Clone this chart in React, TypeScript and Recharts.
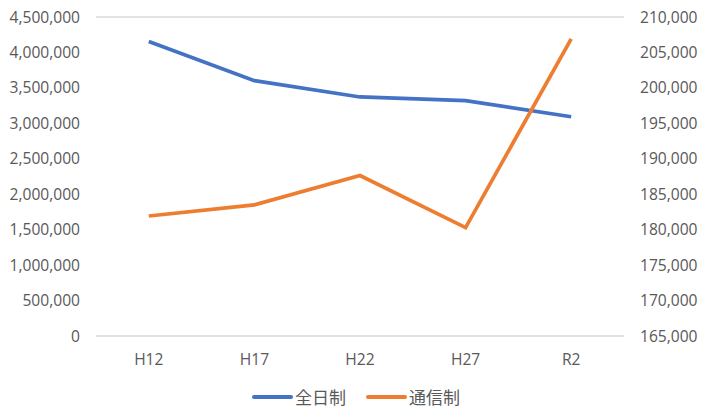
import { CartesianGrid, Legend, Line, LineChart, XAxis, YAxis } from "recharts";

const years = ["H12", "H17", "H22", "H27", "R2"];
const fullTime = [4154000, 3602000, 3372000, 3320000, 3093000];
const correspondence = [181930, 183490, 187630, 180280, 206920];
const leftTicks = [0, 500000, 1000000, 1500000, 2000000, 2500000, 3000000, 3500000, 4000000, 4500000];
const rightTicks = [165000, 170000, 175000, 180000, 185000, 190000, 195000, 200000, 205000, 210000];

const data = years.map((year, i) => ({
  year,
  全日制: fullTime[i],
  通信制: correspondence[i],
}));

const fmt = (v: number) => v.toLocaleString("en-US");
const tickStyle = { fill: "#595959", fontSize: 15.6, fontFamily: "'Open Sans', sans-serif" };

function LegendContent() {
  const items = [
    { name: "全日制", color: "#4472C4" },
    { name: "通信制", color: "#ED7D31" },
  ];
  return (
    <div style={{ display: "flex", justifyContent: "center", gap: 20 }}>
      {items.map((it) => (
        <div key={it.name} style={{ display: "flex", alignItems: "center" }}>
          <span style={{ display: "inline-block", width: 41, height: 4, borderRadius: 2, background: it.color, marginRight: 2 }} />
          <span style={{ color: "#595959", fontSize: 17, fontFamily: "'Noto Sans CJK JP', sans-serif", lineHeight: "22px" }}>{it.name}</span>
        </div>
      ))}
    </div>
  );
}

export default function App() {
  return (
    <div style={{ position: "fixed", left: 0, top: 0, width: 712, height: 418, background: "#fff" }}>
      <LineChart width={712} height={418} data={data} margin={{ top: 17, right: 0, left: 0, bottom: 10 }}>
        <CartesianGrid vertical={false} stroke="#d9d9d9" strokeWidth={1.3} />
        <XAxis
          dataKey="year"
          scale="band"
          axisLine={false}
          tickLine={false}
          tick={tickStyle}
          tickMargin={12}
          height={50}
        />
        <YAxis
          yAxisId="left"
          domain={[0, 4500000]}
          ticks={leftTicks}
          tickFormatter={fmt}
          axisLine={false}
          tickLine={false}
          tick={tickStyle}
          tickMargin={10}
          width={96}
          interval={0}
        />
        <YAxis
          yAxisId="right"
          orientation="right"
          domain={[165000, 210000]}
          ticks={rightTicks}
          tickFormatter={fmt}
          axisLine={false}
          tickLine={false}
          tick={tickStyle}
          tickMargin={10}
          width={88}
          interval={0}
        />
        <Legend verticalAlign="bottom" height={22} content={<LegendContent />} />
        <Line
          yAxisId="left"
          dataKey="全日制"
          stroke="#4472C4"
          strokeWidth={3.7}
          dot={false}
          isAnimationActive={false}
        />
        <Line
          yAxisId="right"
          dataKey="通信制"
          stroke="#ED7D31"
          strokeWidth={3.7}
          dot={false}
          isAnimationActive={false}
        />
      </LineChart>
    </div>
  );
}
